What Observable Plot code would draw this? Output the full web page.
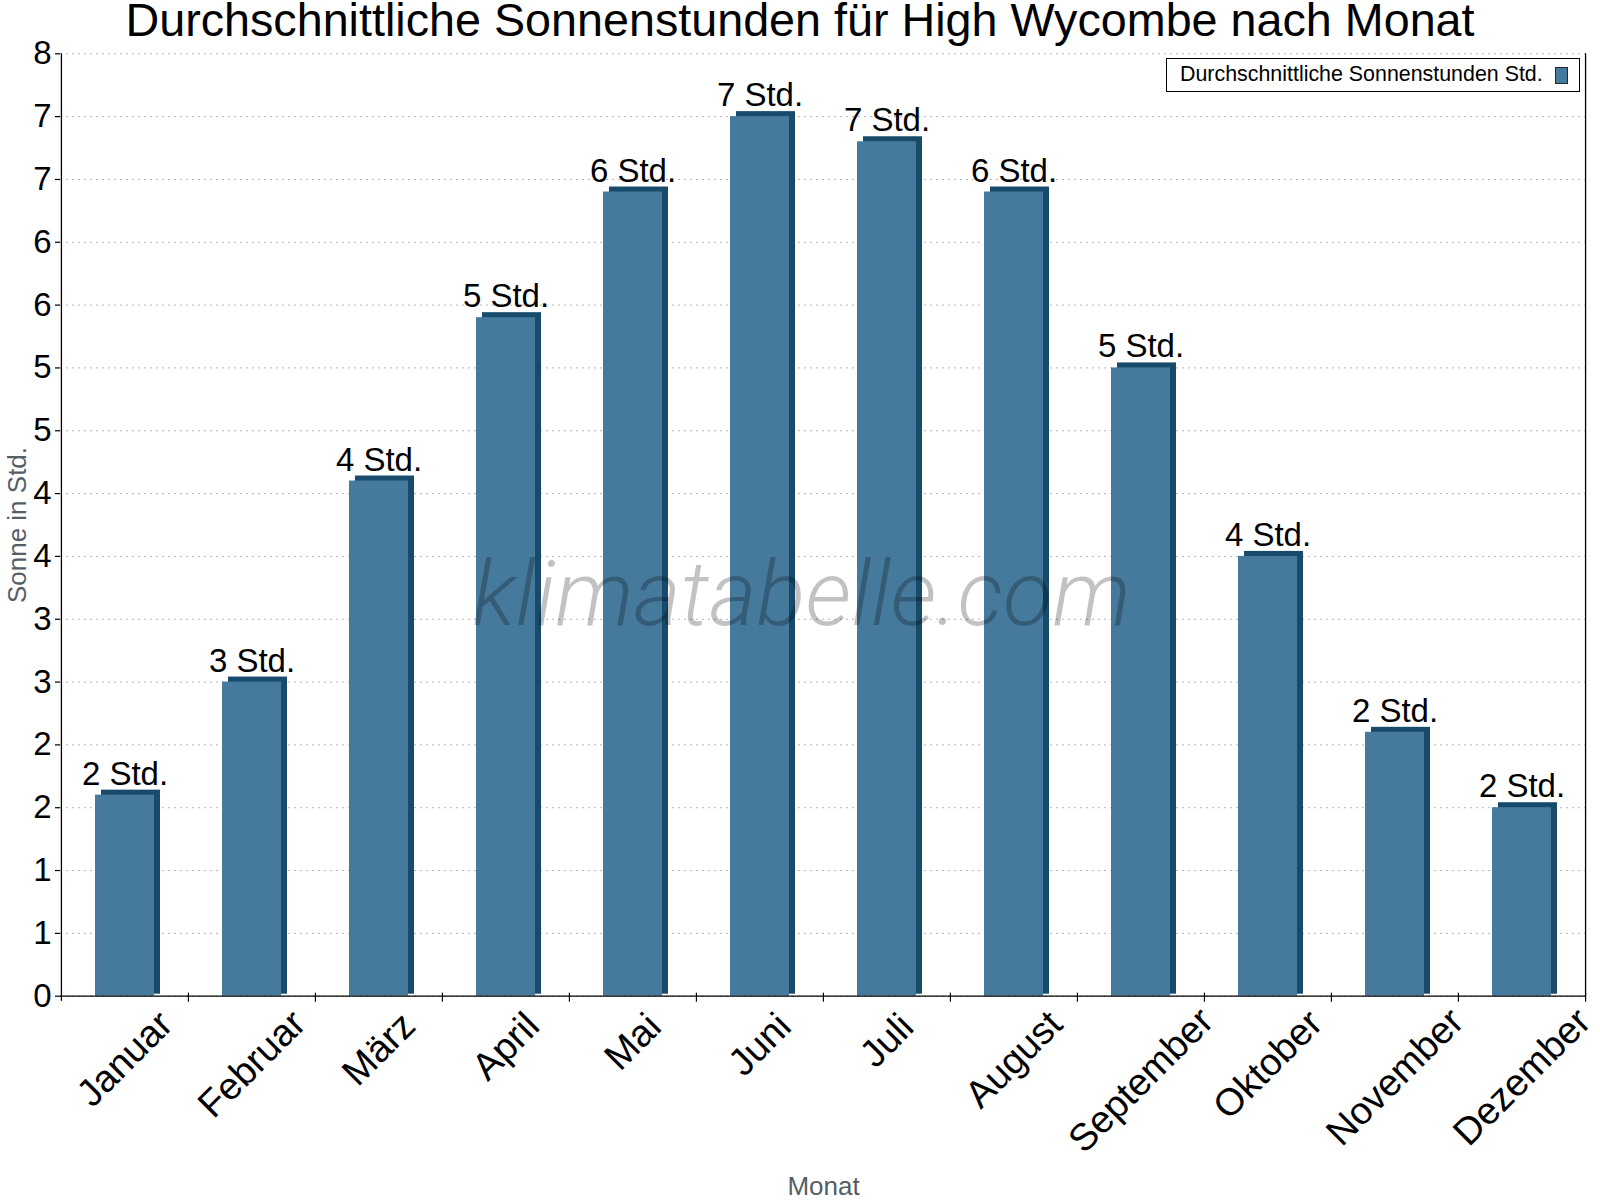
<!DOCTYPE html>
<html>
<head>
<meta charset="utf-8">
<script src="https://cdn.jsdelivr.net/npm/d3@7"></script>
<script src="https://cdn.jsdelivr.net/npm/@observablehq/plot@0.6"></script>
<style>
  html, body { margin: 0; padding: 0; background: #fff; }
  #wrap { position: relative; width: 1600px; height: 1200px; font-family: "Liberation Sans", Arial, sans-serif; overflow: hidden; }
  #title { position: absolute; left: 0; top: 0; width: 1600px; text-align: center; font-size: 46.7px; line-height: 40px; color: #000; white-space: nowrap; }
  #legend { position: absolute; left: 1166px; top: 58px; width: 414px; height: 34px; border: 1px solid #000; background: #fff; box-sizing: border-box; }
  #legend .lt { position: absolute; left: 13px; top: 5px; font-size: 21.4px; line-height: 21px; color: #000; white-space: nowrap; }
  #legend .sw { position: absolute; left: 388px; top: 8px; width: 13px; height: 17px; box-sizing: border-box; border: 1px solid #1e2a33; }
  #chart { position: absolute; left: 0; top: 0; }
</style>
</head>
<body>
<div id="wrap">
  <div id="chart"></div>
  <div id="title"></div>
  <div id="legend"><span class="lt"></span><span class="sw"></span></div>
</div>
<script>
// ---- data ----
const months = ["Januar", "Februar", "März", "April", "Mai", "Juni", "Juli", "August", "September", "Oktober", "November", "Dezember"];
const sunHours = [1.6, 2.5, 4.1, 5.4, 6.4, 7.0, 6.8, 6.4, 5.0, 3.5, 2.1, 1.5];
const yTicks = [0, 0.5, 1, 1.5, 2, 2.5, 3, 3.5, 4, 4.5, 5, 5.5, 6, 6.5, 7, 7.5];
const unit = "Std.";
const seriesName = "Durchschnittliche Sonnenstunden Std.";
const titleText = "Durchschnittliche Sonnenstunden für High Wycombe nach Monat";
const yLabel = "Sonne in Std.";
const xLabel = "Monat";
const watermark = "klimatabelle.com";

const data = months.map((m, i) => ({month: m, value: sunHours[i]}));

// ---- layout / style ----
const W = 1600, H = 1200, mL = 60, mR = 14, mT = 53.3, mB = 204.3;
const step = (W - mL - mR) / months.length;
const frontColor = "#467a9c", sideColor = "#184a6b";
const FS = 33;      // tick + value label size
const FSX = 38;     // month label size

document.getElementById("title").textContent = titleText;
document.querySelector("#legend .lt").textContent = seriesName;
document.querySelector("#legend .sw").style.background = frontColor;

const ctx = document.createElement("canvas").getContext("2d");
ctx.font = `${FS}px "Liberation Sans"`;

const monthLabels = months.map(m => {
  const w = ctx.measureText(m).width;
  return Plot.text([m], {
    x: d => d, text: d => d, frameAnchor: "bottom",
    rotate: -45, textAnchor: "middle", lineAnchor: "middle",
    dy: 16.5 + (w + 30) * 0.3536, fontSize: FSX, fill: "black"
  });
});

const chart = Plot.plot({
  width: W, height: H,
  marginLeft: mL, marginRight: mR, marginTop: mT, marginBottom: mB,
  style: {fontFamily: '"Liberation Sans", Arial, sans-serif', background: "transparent", color: "black", overflow: "visible"},
  x: {domain: months, paddingInner: 0.536, paddingOuter: 0.268, align: 0.5, axis: null},
  y: {domain: [0, 7.5], axis: null},
  marks: [
    Plot.gridY(yTicks, {stroke: "#b4b4b4", strokeOpacity: 1, strokeDasharray: "2,4", strokeWidth: 1}),
    Plot.barY(data, {x: "month", y: "value", fill: sideColor, dx: 6, dy: -5, insetBottom: -3}),
    Plot.barY(data, {x: "month", y: "value", fill: frontColor}),
    Plot.text([watermark], {
      frameAnchor: "middle", text: d => d, textAnchor: "middle", lineAnchor: "bottom",
      dx: -22, dy: 100, fontSize: 91, fontStyle: "italic", fontWeight: 300,
      fontFamily: "Roboto, 'Open Sans', sans-serif", fill: "black", fillOpacity: 0.24
    }),
    Plot.text(data, {x: "month", y: "value", text: d => `${Math.round(d.value)} ${unit}`, lineAnchor: "bottom", dy: -10.5, fontSize: FS, fill: "black"}),
    Plot.ruleY([0], {stroke: "black", strokeWidth: 1.3}),
    Plot.ruleX([months[0]], {x: d => d, dx: -step / 2, stroke: "black", strokeWidth: 1.3, insetBottom: -5}),
    Plot.ruleX([months[months.length - 1]], {x: d => d, dx: step / 2, stroke: "black", strokeWidth: 1.3}),
    Plot.ruleX(months.slice(1), {x: d => d, dx: -step / 2, y1: 0, y2: 0, insetTop: -3, insetBottom: -6, stroke: "black", strokeWidth: 1.2}),
    Plot.ruleX([months[months.length - 1]], {x: d => d, dx: step / 2, y1: 0, y2: 0, insetTop: -3, insetBottom: -6, stroke: "black", strokeWidth: 1.2}),
    Plot.axisY({ticks: yTicks, tickSize: 5, tickPadding: 4, tickFormat: d => Math.round(d), fontSize: FS, label: null, stroke: "black", strokeWidth: 1.2}),
    Plot.text([yLabel], {frameAnchor: "left", text: d => d, rotate: -90, textAnchor: "middle", dx: -35, lineAnchor: "bottom", fontSize: 26, fill: "#555e66"}),
    Plot.text([xLabel], {frameAnchor: "bottom", text: d => d, textAnchor: "middle", dy: 198.3, lineAnchor: "bottom", fontSize: 26, fill: "#555e66"}),
    ...monthLabels
  ]
});
document.getElementById("chart").appendChild(chart);
</script>
</body>
</html>
